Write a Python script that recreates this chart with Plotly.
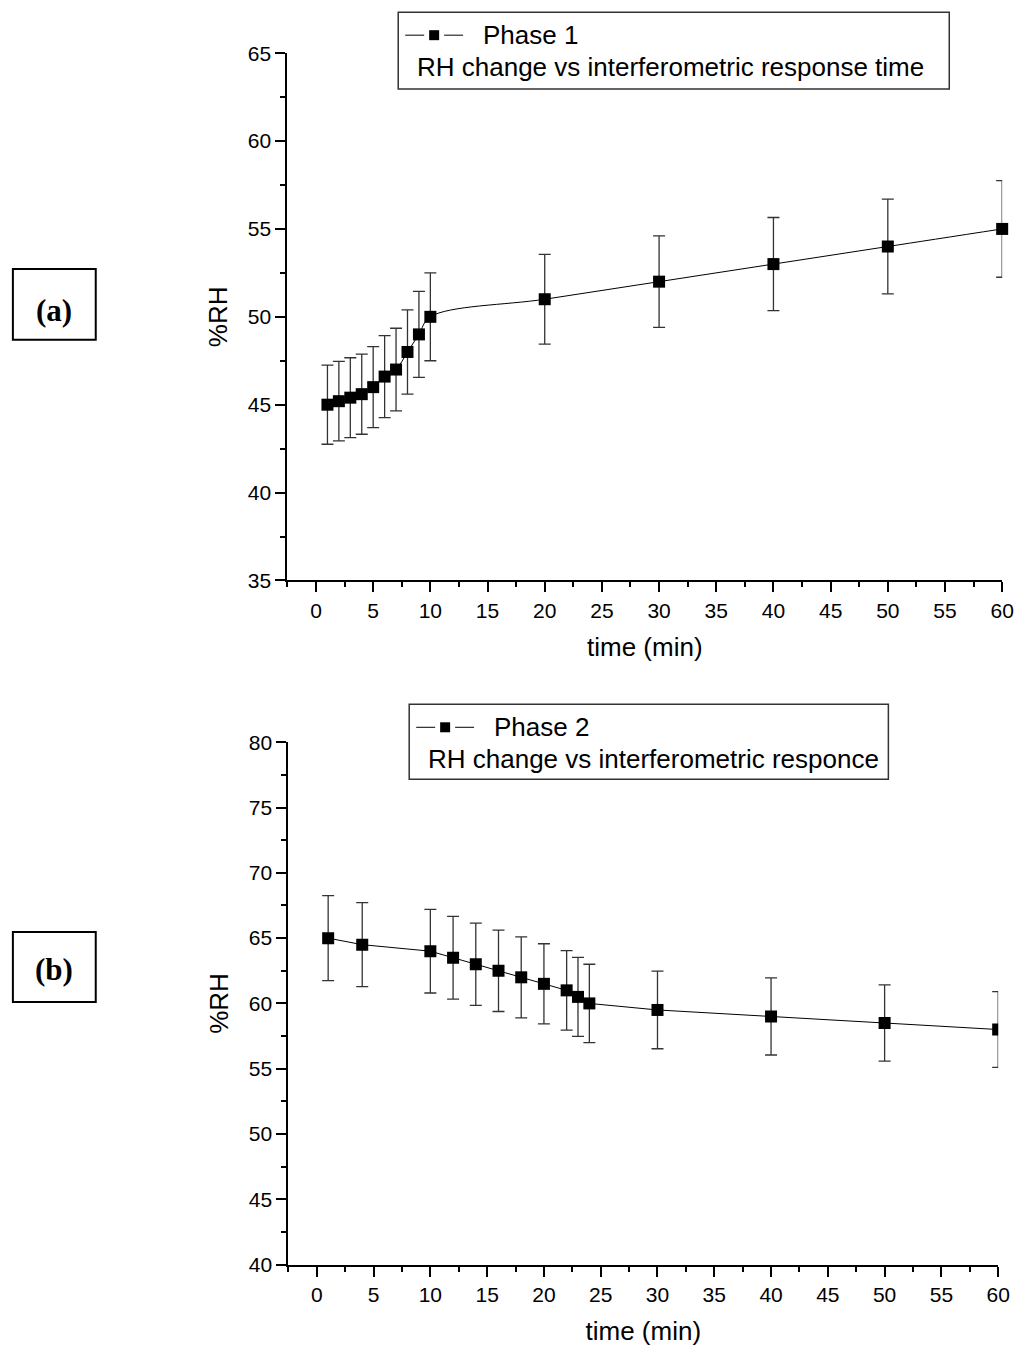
import plotly.graph_objects as go

# Phase 1 data (panel a)
time_a = [1, 2, 3, 4, 5, 6, 7, 8, 9, 10, 20, 30, 40, 50, 60]
rh_a = [45, 45.2, 45.4, 45.6, 46, 46.6, 47, 48, 49, 50, 51, 52, 53, 54, 55]
err_a = [2.25, 2.26, 2.27, 2.28, 2.3, 2.33, 2.35, 2.4, 2.45, 2.5, 2.55, 2.6, 2.65, 2.7, 2.75]

# Phase 2 data (panel b)
time_b = [1, 4, 10, 12, 14, 16, 18, 20, 22, 23, 24, 30, 40, 50, 60]
rh_b = [65, 64.5, 64, 63.5, 63, 62.5, 62, 61.5, 61, 60.5, 60, 59.5, 59, 58.5, 58]
err_b = [3.25, 3.22, 3.2, 3.17, 3.15, 3.12, 3.1, 3.07, 3.05, 3.02, 3.0, 2.97, 2.95, 2.92, 2.9]

W, H = 1024, 1355


# convert picture pixel positions to paper coords (page renders a bit scaled/offset)
def px(x):
    return ((x - 7.1) / 0.990) / W


def py(y):
    return 1 - ((y - 17.8) / 0.9843) / H


FONT = "Liberation Sans, Arial, sans-serif"

fig = go.Figure()

fig.add_trace(go.Scatter(
    x=time_a, y=rh_a, mode="lines+markers", name="Phase 1", showlegend=False,
    line=dict(color="black", width=1, shape="spline", smoothing=1.0),
    marker=dict(symbol="square", size=12, color="black"),
    error_y=dict(type="data", array=err_a, visible=True, color="#333333",
                 thickness=1.3, width=6),
    xaxis="x", yaxis="y", cliponaxis=False,
))

fig.add_trace(go.Scatter(
    x=time_b, y=rh_b, mode="lines+markers", name="Phase 2", showlegend=False,
    line=dict(color="black", width=1),
    marker=dict(symbol="square", size=12, color="black"),
    error_y=dict(type="data", array=err_b, visible=True, color="#333333",
                 thickness=1.3, width=6),
    xaxis="x2", yaxis="y2",
))

axis_common = dict(
    showline=True, linecolor="black", linewidth=2, ticks="outside",
    ticklen=10, tickwidth=2, tickcolor="black", showgrid=False, zeroline=False,
    tickfont=dict(family=FONT, size=21, color="black"),
    mirror=False,
)
minor = dict(ticks="outside", ticklen=5, tickwidth=1.5, tickcolor="black",
             dtick=2.5, tick0=0)
title_font = dict(family=FONT, size=26, color="black")

fig.update_layout(
    width=W, height=H,
    margin=dict(l=0, r=0, t=0, b=0),
    plot_bgcolor="white", paper_bgcolor="white",
    font=dict(family=FONT, color="black"),
    showlegend=False,
    xaxis=dict(axis_common, domain=[px(287), px(1003)], anchor="y",
               range=[-2.5, 60], tick0=0, dtick=5, minor=minor,
               title=dict(text="time (min)", font=title_font, standoff=17)),
    yaxis=dict(axis_common, domain=[py(579), py(51)], anchor="x",
               range=[35, 65], dtick=5, minor=minor,
               title=dict(text="%RH", font=title_font, standoff=13)),
    xaxis2=dict(axis_common, domain=[px(288), px(999)], anchor="y2",
                range=[-2.5, 60], tick0=0, dtick=5, minor=minor,
                title=dict(text="time (min)", font=title_font, standoff=17)),
    yaxis2=dict(axis_common, domain=[py(1264), py(741)], anchor="x2",
                range=[40, 80], dtick=5, minor=minor,
                title=dict(text="%RH", font=title_font, standoff=13)),
)


def legend_box(x0, y0, x1, y1, name, desc):
    # frame
    fig.add_shape(type="rect", xref="paper", yref="paper",
                  x0=px(x0), x1=px(x1), y0=py(y1), y1=py(y0),
                  line=dict(color="#333333", width=1.5))
    cy = y0 + 23
    # symbol  —■—
    for a, b in [(x0 + 7, x0 + 26), (x0 + 46, x0 + 65)]:
        fig.add_shape(type="line", xref="paper", yref="paper",
                      x0=px(a), x1=px(b), y0=py(cy), y1=py(cy),
                      line=dict(color="black", width=1))
    fig.add_shape(type="rect", xref="paper", yref="paper",
                  x0=px(x0 + 31), x1=px(x0 + 41), y0=py(cy + 5), y1=py(cy - 5),
                  fillcolor="black", line=dict(color="black", width=0))
    fig.add_annotation(text=name, xref="paper", yref="paper",
                       x=px(x0 + 83), y=py(cy), xanchor="left", yanchor="middle",
                       showarrow=False, font=dict(family=FONT, size=26, color="black"))
    fig.add_annotation(text=desc, xref="paper", yref="paper",
                       x=px(x0 + 17), y=py(y0 + 55), xanchor="left", yanchor="middle",
                       showarrow=False, font=dict(family=FONT, size=26, color="black"))


legend_box(398, 10, 950, 87, "Phase 1", "RH change vs interferometric response time")
legend_box(409, 703, 889, 778, "Phase 2", "RH change vs interferometric responce")

# panel labels
for label, top, bottom, ty in [("(a)", 267, 338, 309), ("(b)", 931, 1001, 969)]:
    fig.add_shape(type="rect", xref="paper", yref="paper",
                  x0=px(12), x1=px(95), y0=py(bottom), y1=py(top),
                  line=dict(color="black", width=2))
    fig.add_annotation(text="<b>%s</b>" % label, xref="paper", yref="paper",
                       x=px(53), y=py(ty), xanchor="center", yanchor="middle",
                       showarrow=False,
                       font=dict(family="Liberation Serif, Times New Roman, serif",
                                 size=31, color="black"))

fig.write_html("out.html")
